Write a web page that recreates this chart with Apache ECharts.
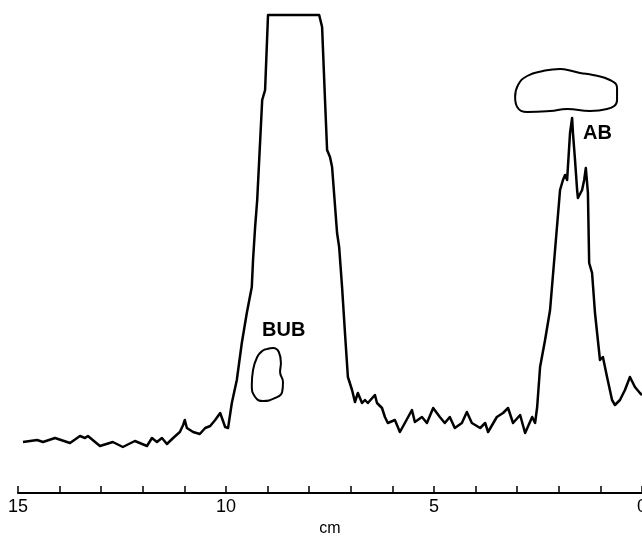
<!DOCTYPE html>
<html>
<head>
<meta charset="utf-8">
<script src="https://cdn.jsdelivr.net/npm/echarts@6/dist/echarts.min.js"></script>
<style>
  html, body { margin: 0; padding: 0; background: #fff; }
  #container { width: 642px; height: 537px; }
</style>
</head>
<body>
<div id="container"></div>
<script>
// trace position (cm) and detector height
var traceCm = [14.88, 14.54, 14.40, 14.11, 13.75, 13.51, 13.39, 13.32, 13.03, 12.72, 12.48, 12.19, 11.90, 11.78, 11.66, 11.54, 11.42, 11.27, 11.11, 11.03, 10.99, 10.94, 10.79, 10.63, 10.50, 10.38, 10.26, 10.14, 10.02, 9.95, 9.86, 9.74, 9.62, 9.50, 9.38, 9.35, 9.30, 9.25, 9.13, 9.06, 8.99, 7.76, 7.69, 7.62, 7.57, 7.50, 7.45, 7.33, 7.28, 7.21, 7.14, 7.07, 6.97, 6.90, 6.83, 6.73, 6.66, 6.59, 6.42, 6.37, 6.25, 6.18, 6.11, 5.94, 5.82, 5.70, 5.53, 5.46, 5.29, 5.17, 5.02, 4.86, 4.74, 4.62, 4.50, 4.33, 4.21, 4.09, 3.89, 3.77, 3.70, 3.49, 3.34, 3.22, 3.10, 2.93, 2.81, 2.64, 2.57, 2.52, 2.45, 2.33, 2.21, 2.09, 1.97, 1.90, 1.85, 1.80, 1.73, 1.68, 1.66, 1.61, 1.56, 1.54, 1.44, 1.39, 1.35, 1.30, 1.27, 1.20, 1.13, 1.01, 0.94, 0.84, 0.72, 0.65, 0.53, 0.41, 0.29, 0.17, 0.05, 0.00];
var traceVal = [51, 53, 51, 55, 50, 57, 55, 57, 47, 51, 46, 52, 47, 55, 51, 55, 49, 55, 61, 68, 73, 65, 61, 59, 65, 67, 73, 80, 66, 65, 90, 113, 150, 180, 206, 233, 266, 293, 393, 403, 478, 478, 466, 393, 343, 336, 326, 260, 246, 206, 160, 116, 103, 91, 100, 90, 93, 90, 98, 90, 85, 76, 70, 73, 61, 70, 83, 71, 76, 70, 85, 76, 70, 76, 65, 70, 81, 70, 65, 70, 61, 76, 80, 85, 70, 78, 60, 76, 70, 86, 126, 153, 183, 243, 303, 313, 318, 313, 360, 375, 360, 333, 303, 295, 303, 313, 325, 300, 230, 220, 180, 133, 136, 116, 93, 88, 93, 103, 116, 106, 100, 98];

// outline sketches drawn over the trace
var bubCm = [9.01, 8.87, 8.73, 8.68, 8.70, 8.63, 8.65, 8.82, 9.11, 9.30, 9.38, 9.35, 9.25, 9.13, 9.01];
var bubVal = [144, 145, 141, 130, 121, 111, 101, 95, 92, 96, 108, 123, 136, 142, 144];
var abCm = [3.05, 2.98, 2.76, 2.38, 1.97, 1.68, 1.49, 1.18, 0.77, 0.60, 0.60, 0.84, 1.25, 1.80, 2.21, 2.76, 3.00, 3.05];
var abVal = [396, 408, 417, 422, 424, 422, 420, 418, 413, 405, 393, 384, 382, 384, 382, 381, 386, 396];

var tickLabels = [15, 10, 5, 0];

function pairs(xs, ys) {
  return xs.map(function (x, i) { return [x, ys[i]]; });
}

var myChart = echarts.init(document.getElementById('container'));

var options = {
  animation: false,
  backgroundColor: '#fff',
  grid: { left: 18, right: 0, top: 1, bottom: 44, containLabel: false, outerBoundsMode: 'none' },
  xAxis: {
    type: 'value',
    inverse: true,
    min: 0,
    max: 15,
    interval: 1,
    name: 'cm',
    nameLocation: 'middle',
    nameGap: 26,
    nameTextStyle: { color: '#000', fontSize: 16, fontFamily: 'Liberation Sans' },
    axisLine: { lineStyle: { color: '#000', width: 2 } },
    axisTick: { inside: true, length: 7, lineStyle: { color: '#000', width: 1.5 } },
    axisLabel: {
      color: '#000',
      fontSize: 18,
      fontFamily: 'Liberation Sans',
      margin: 5,
      formatter: function (v) {
        return tickLabels.indexOf(v) >= 0 ? String(v) : '';
      }
    },
    splitLine: { show: false }
  },
  yAxis: {
    type: 'value',
    min: 0,
    max: 492,
    show: false
  },
  graphic: [
    { type: 'text', left: 262, top: 320, style: { text: 'BUB', fill: '#000', font: 'bold 20px Liberation Sans' } },
    { type: 'text', left: 583, top: 123, style: { text: 'AB', fill: '#000', font: 'bold 20px Liberation Sans' } }
  ],
  series: [
    {
      type: 'line',
      data: pairs(traceCm, traceVal),
      symbol: 'none',
      clip: false,
      lineStyle: { color: '#000', width: 2.5, join: 'round' }
    },
    {
      type: 'line',
      data: pairs(bubCm, bubVal),
      symbol: 'none',
      smooth: 0.5,
      lineStyle: { color: '#000', width: 2 }
    },
    {
      type: 'line',
      data: pairs(abCm, abVal),
      symbol: 'none',
      smooth: 0.5,
      lineStyle: { color: '#000', width: 2 }
    }
  ]
};

myChart.setOption(options);
</script>
</body>
</html>
